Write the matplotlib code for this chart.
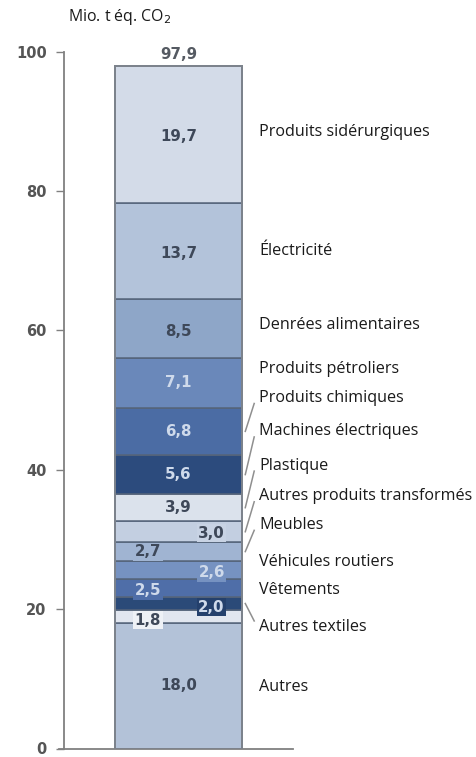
import matplotlib
matplotlib.use("Agg")
import matplotlib.pyplot as plt

# ---- data (bottom to top) ----
values = [18.0, 1.8, 2.0, 2.5, 2.6, 2.7, 3.0, 3.9, 5.6, 6.8, 7.1, 8.5, 13.7, 19.7]
value_labels = ["18,0", "1,8", "2,0", "2,5", "2,6", "2,7", "3,0", "3,9",
                "5,6", "6,8", "7,1", "8,5", "13,7", "19,7"]
categories = ["Autres", "", "Autres textiles", "Vêtements", "Véhicules routiers",
              "Meubles", "Autres produits transformés", "Plastique",
              "Machines électriques", "Produits chimiques", "Produits pétroliers",
              "Denrées alimentaires", "Électricité", "Produits sidérurgiques"]
total_label = "97,9"
yticks = [0, 20, 40, 60, 80, 100]
unit_label = "Mio. t éq. CO$_2$"

# ---- styles ----
colors = ["#b3c2d8", "#e1e6ef", "#2b4a78", "#4f6ea8", "#7692c1", "#a0b4d2",
          "#c3cfe1", "#dbe2ec", "#2c4b7d", "#4b6ca4", "#6a88ba", "#8ea6c8",
          "#b3c3da", "#d3dbe8"]
box_colors = [None, "#eef1f6", "#24406c", "#4f6ea8", "#7692c1", "#a0b4d2",
              "#c8d3e4", "#dbe2ec", None, None, None, None, None, None]
dark_text = "#3e4859"
light_text = "#cfdaeb"
text_dark_flags = [True, True, False, False, False, True, True, True,
                   False, False, False, True, True, True]
# horizontal placement of value labels (layout)
label_x = [0, -0.24, 0.26, -0.24, 0.26, -0.24, 0.26, 0,
           0, 0, 0, 0, 0, 0]
label_dy = [0, -0.5, -0.5, -0.4, -0.4, 0, -0.2, 0, 0, 0, 0, -0.4, -0.3, -0.3]
# vertical positions of category labels on the right (layout, data units)
cat_y = [8.8, None, 17.5, 22.8, 26.8, 32.1, 36.2, 40.6, 45.5, 50.3, 54.4,
         60.8, 71.4, 88.4]
leader = [False, False, True, False, False, True, True, True, True, True,
          False, False, False, False]

W, H = 477, 757
fig = plt.figure(figsize=(W / 100, H / 100), dpi=100)
fig.patch.set_facecolor("white")
ax = fig.add_axes([64 / W, 8.5 / H, 229 / W, 697 / H])
ax.set_xlim(-0.9, 0.9)
ax.set_ylim(0, 100)

bottoms = []
b = 0.0
for v in values:
    bottoms.append(b)
    b += v

ax.bar([0] * len(values), values, bottom=bottoms, width=1.0, color=colors,
       edgecolor="#55647a", linewidth=1.1, zorder=2)
# outer outline of the stacked bar
ax.bar([0], [sum(values)], bottom=[0], width=1.0, color="none",
       edgecolor="#7d838c", linewidth=1.4, zorder=4)

num_font = dict(family="DejaVu Sans", fontweight="bold", fontsize=10.8)
for i, (v, bt) in enumerate(zip(values, bottoms)):
    yc = bt + v / 2 + label_dy[i]
    col = dark_text if text_dark_flags[i] else light_text
    kw = {}
    if box_colors[i] is not None:
        kw["bbox"] = dict(boxstyle="square,pad=0.1", fc=box_colors[i], ec="none")
    ax.text(label_x[i], yc, value_labels[i], ha="center", va="center",
            color=col, zorder=5, **num_font, **kw)

# total on top
ax.annotate(total_label, (0, sum(values)), xytext=(0, 3), textcoords="offset points",
            ha="center", va="bottom", color="#555a62", zorder=5, **num_font)

# category labels
lab_x = 0.633
for i, cat in enumerate(categories):
    if not cat:
        continue
    ax.text(lab_x, cat_y[i], cat, ha="left", va="center", fontsize=11.6,
            family="Open Sans", color="#1a1a1a", clip_on=False)
    if leader[i]:
        target = bottoms[i] + values[i] / 2
        y0 = cat_y[i] - 0.8 if target < cat_y[i] else cat_y[i] + 0.8
        ax.plot([0.595, 0.525], [y0, target], color="#8f8f8f", lw=1.1,
                clip_on=False, zorder=3)

# axes styling
for s in ["top", "right"]:
    ax.spines[s].set_visible(False)
ax.spines["left"].set_color("#808080")
ax.spines["bottom"].set_color("#808080")
ax.spines["left"].set_linewidth(1.3)
ax.spines["bottom"].set_linewidth(1.3)
ax.set_xticks([])
ax.set_yticks(yticks)
ax.set_yticklabels([str(t) for t in yticks])
ax.tick_params(axis="y", direction="out", length=5.5, width=1.0, color="#808080",
               pad=7, labelsize=10.5, labelcolor="#555555")
for lbl in ax.get_yticklabels():
    lbl.set_fontweight("bold")
    lbl.set_family("DejaVu Sans")
ax.spines["bottom"].set_bounds(-0.94, 0.9)

fig.text(68 / W, 1 - 17 / H, unit_label, ha="left", va="center", fontsize=11.4,
         family="Open Sans", color="#1a1a1a")

fig.savefig("out.png", dpi=100, facecolor="white")
